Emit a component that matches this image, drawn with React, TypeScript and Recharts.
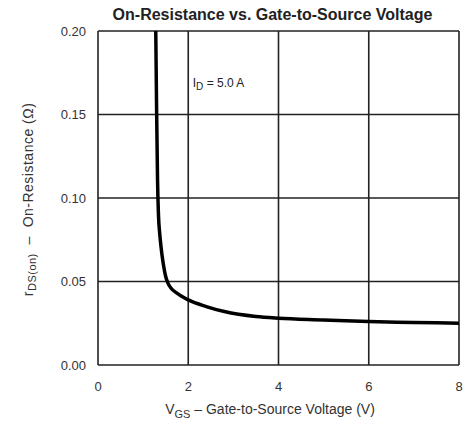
import { LineChart, Line, XAxis, YAxis, CartesianGrid, ReferenceDot } from "recharts";

const vgs = [1.28, 1.3, 1.32, 1.34, 1.37, 1.4, 1.45, 1.5, 1.55, 1.62, 1.75, 2.0, 2.4, 2.8, 3.5, 4, 5, 6, 7, 8];
const rdsOn = [0.2, 0.15, 0.11, 0.09, 0.078, 0.07, 0.06, 0.053, 0.049, 0.046, 0.043, 0.039, 0.035, 0.032, 0.029, 0.028, 0.027, 0.026, 0.0255, 0.025];

const xTicks = [0, 2, 4, 6, 8];
const yTicks = [0, 0.05, 0.1, 0.15, 0.2];

const data = vgs.map((v, i) => ({ vgs: v, r: rdsOn[i] }));

const font = "'Liberation Sans', Arial, sans-serif";

const IdLabel = (props: any) => {
  const { viewBox } = props;
  const x = viewBox.x;
  const y = viewBox.y;
  return (
    <g>
      <rect x={x - 3} y={y - 12} width={64} height={22} fill="#fff" />
      <text x={x} y={y + 3} fontSize={12} fill="#222" fontFamily={font}>
        <tspan fill="#222">I</tspan>
        <tspan fill="#222" fontSize={10} dy={3}>D</tspan>
        <tspan fill="#222" dy={-3}> = 5.0 A</tspan>
      </text>
    </g>
  );
};

const App = () => {
  return (
    <div style={{ position: "absolute", left: 0, top: 0, width: 470, height: 430, background: "#fff", fontFamily: font }}>
      <div style={{ position: "absolute", left: 60, width: 425, top: 6, textAlign: "center", fontSize: 16, fontWeight: "bold", color: "#222" }}>
        On-Resistance vs. Gate-to-Source Voltage
      </div>
      <LineChart
        width={470}
        height={430}
        data={data}
        margin={{ top: 31, right: 11, bottom: 35, left: 38 }}
      >
        <CartesianGrid stroke="#222" strokeWidth={1.6} horizontalValues={yTicks} verticalValues={xTicks} />
        <XAxis
          dataKey="vgs"
          type="number"
          domain={[0, 8]}
          ticks={xTicks}
          axisLine={false}
          tickLine={false}
          height={30}
          tick={{ fontSize: 13, fill: "#333", fontFamily: font }}
          tickMargin={11}
        />
        <YAxis
          type="number"
          domain={[0, 0.2]}
          ticks={yTicks}
          allowDataOverflow
          axisLine={false}
          tickLine={false}
          width={60}
          tick={{ fontSize: 13, fill: "#333", fontFamily: font }}
          tickFormatter={(v: number) => v.toFixed(2)}
          tickMargin={6}
        />
        <Line
          dataKey="r"
          type="monotone"
          stroke="#000"
          strokeWidth={3.5}
          dot={false}
          isAnimationActive={false}
        />
        <ReferenceDot x={2.1} y={0.168} r={0} fill="none" stroke="none" label={{ content: IdLabel }} />
      </LineChart>
      <div style={{ position: "absolute", left: 0, width: 540, top: 401, textAlign: "center", fontSize: 14, color: "#333" }}>
        V<sub style={{ fontSize: 11 }}>GS</sub> – Gate-to-Source Voltage (V)
      </div>
      <div
        style={{
          position: "absolute",
          left: 29,
          top: 199,
          width: 300,
          marginLeft: -150,
          marginTop: -9,
          textAlign: "center",
          fontSize: 14,
          letterSpacing: 0.5,
          color: "#333",
          transform: "rotate(-90deg)",
          whiteSpace: "nowrap",
        }}
      >
        r<sub style={{ fontSize: 11 }}>DS(on)</sub> &nbsp;–&nbsp; On-Resistance (Ω)
      </div>
    </div>
  );
};

export default App;
